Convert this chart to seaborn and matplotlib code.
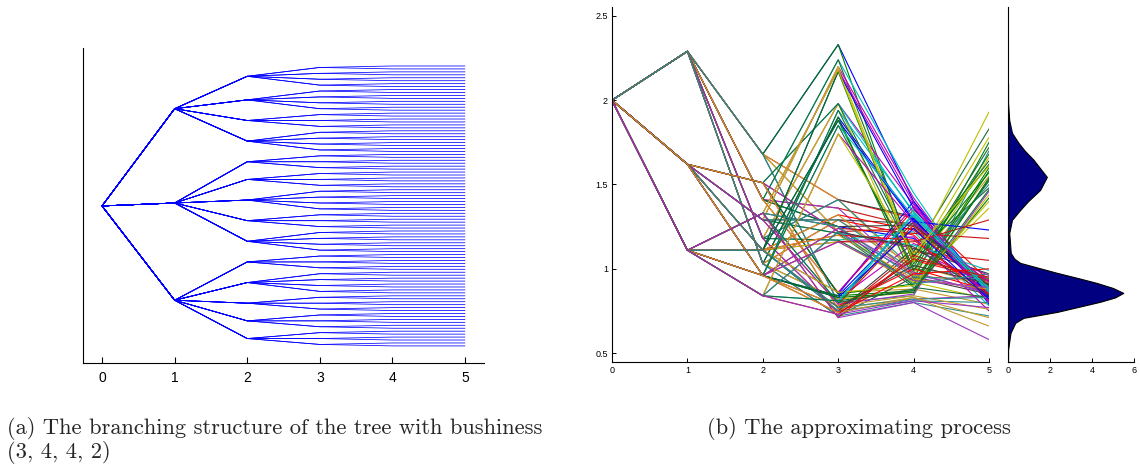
import numpy as np
import pandas as pd
import matplotlib
matplotlib.use("Agg")
import matplotlib.pyplot as plt
import seaborn as sns

# ---------------- data ----------------
# (a) branching structure of the tree
stages = [0, 1, 2, 3, 4, 5]
tree_root_children = 3
tree_stage1_children = [4, 5, 5]
tree_stage2_children = [4, 4, 3, 4, 3, 3, 4, 3, 4, 3, 4, 3, 3, 3]
tree_stage3_children = 2
tree_stage4_children = 1

# (b) approximating process: node values per stage (tree order)
proc_stage0 = [2.0]
proc_stage1 = [2.29, 1.62, 1.11]
proc_stage2 = [1.68, 1.41, 1.18, 1.03,
               1.51, 1.29, 1.11, 0.96,
               1.33, 1.11, 0.96, 0.84]
proc_stage3 = [2.33, 1.41, 1.22, 0.80,  2.24, 1.36, 1.25, 0.86,
               1.98, 1.41, 1.17, 0.74,  1.90, 1.29, 0.82, 0.72,
               1.98, 1.22, 0.85, 0.76,  2.20, 1.29, 1.21, 0.79,
               2.17, 1.32, 1.16, 0.75,  1.94, 1.24, 0.84, 0.78,
               2.18, 1.25, 0.80, 0.71,  1.88, 1.20, 0.86, 0.77,
               1.85, 1.16, 0.83, 0.74,  1.80, 1.22, 0.81, 0.73]
proc_stage4 = [1.40, 1.05, 1.30, 0.98, 1.12, 0.92, 1.28, 0.84,
               1.45, 1.08, 1.25, 0.95, 1.18, 0.90, 1.35, 0.88,
               1.38, 0.96, 1.31, 1.00, 1.22, 0.93, 1.10, 0.82,
               1.29, 0.94, 1.20, 1.02, 1.15, 0.86, 0.95, 0.80,
               1.33, 1.10, 1.24, 0.97, 1.40, 0.91, 1.05, 0.83,
               1.42, 1.06, 1.27, 0.99, 1.14, 0.89, 1.26, 0.85,
               1.36, 1.03, 1.23, 0.96, 1.19, 0.92, 1.12, 0.81,
               1.34, 1.07, 1.21, 0.98, 1.30, 0.87, 1.00, 0.84,
               1.39, 1.04, 1.26, 0.95, 1.32, 0.88, 1.08, 0.80,
               1.28, 0.99, 1.17, 0.94, 1.37, 0.90, 1.02, 0.82,
               1.31, 1.01, 1.16, 0.93, 1.24, 0.86, 0.97, 0.83,
               1.27, 1.09, 1.13, 0.91, 1.33, 0.87, 1.06, 0.81]
proc_stage5 = [0.86, 1.62, 0.84, 1.55, 0.90, 0.82, 0.88, 1.70,
               0.80, 1.48, 0.92, 0.87, 0.85, 1.58, 0.93, 0.79,
               0.83, 1.66, 0.89, 0.95, 0.78, 1.52, 1.05, 0.84,
               0.87, 1.75, 0.81, 0.90, 0.96, 1.44, 0.85, 0.72,
               0.88, 1.83, 0.91, 0.86, 0.79, 1.60, 0.94, 0.66,
               0.82, 1.93, 0.86, 1.50, 0.99, 0.83, 0.90, 1.46,
               0.84, 1.57, 0.88, 0.92, 0.75, 1.36, 0.97, 0.80,
               0.89, 1.64, 1.18, 0.85, 0.83, 1.42, 0.87, 0.76,
               0.81, 1.78, 0.90, 0.94, 0.86, 1.53, 0.93, 0.58,
               1.23, 1.68, 0.85, 0.88, 0.80, 1.40, 0.91, 0.83,
               0.87, 1.72, 1.29, 0.89, 0.82, 1.54, 1.00, 0.71,
               0.92, 1.61, 0.84, 0.97, 0.88, 1.47, 0.95, 0.77]
proc_branching = [3, 4, 4, 2, 1]

# density of the final-stage values
dens_value = [0.45, 0.519, 0.62, 0.68, 0.709, 0.744, 0.804, 0.83, 0.857, 0.886,
              0.916, 0.946, 0.976, 1.035, 1.06, 1.094, 1.213, 1.290, 1.349,
              1.40, 1.468, 1.545, 1.646, 1.70, 1.747, 1.806, 1.88, 1.984, 2.10]
dens_height = [0.0, 0.0, 0.12, 0.35, 0.74, 2.33, 4.38, 5.10, 5.49, 5.00,
               4.23, 3.30, 2.33, 0.58, 0.30, 0.13, 0.06, 0.19, 0.58,
               0.95, 1.53, 1.85, 1.22, 0.80, 0.50, 0.19, 0.06, 0.0, 0.0]

proc_colors = ["#0000FF", "#007F00", "#FF0000", "#C49A2C", "#BF00BF",
               "#BFBF00", "#404040", "#2E8E8E", "#00BFBF", "#1A6B3A",
               "#CC1111", "#9A35C0"]

caption_a = ["(a) The branching structure of the tree with bushiness",
             "(3, 4, 4, 2)"]
caption_b = "(b) The approximating process"

# ---------------- build tree paths ----------------
leaf_nodes = []   # per leaf: node index at each stage
s2 = s3 = s4 = 0
for i1, n1 in enumerate(tree_stage1_children):
    for _ in range(n1):
        for _ in range(tree_stage2_children[s2]):
            for _ in range(tree_stage3_children):
                for _ in range(tree_stage4_children):
                    leaf_nodes.append((0, i1, s2, s3, s4, len(leaf_nodes)))
                s4 += 1
            s3 += 1
        s2 += 1
n_leaves = len(leaf_nodes)
leaf_nodes = np.array(leaf_nodes)
leaf_pos = np.arange(n_leaves, dtype=float)
node_y = []
for k in range(6):
    ids = leaf_nodes[:, k]
    node_y.append({nid: leaf_pos[ids == nid].mean() for nid in np.unique(ids)})
rows = []
for li in range(n_leaves):
    for k in stages:
        rows.append({"leaf": li, "stage": k, "y": node_y[k][leaf_nodes[li, k]]})
df_tree = pd.DataFrame(rows)

# ---------------- build process paths ----------------
levels = [proc_stage0, proc_stage1, proc_stage2, proc_stage3, proc_stage4, proc_stage5]
n_paths = len(proc_stage5)
div = [int(np.prod(proc_branching[k:])) for k in range(6)]
prow = []
for p in range(n_paths):
    for k in stages:
        prow.append({"path": f"p{p:03d}", "stage": k, "value": levels[k][p // div[k]]})
df_proc = pd.DataFrame(prow)
pal = {f"p{p:03d}": proc_colors[p % len(proc_colors)] for p in range(n_paths)}

# ---------------- figure ----------------
sns.set_theme(style="white")
plt.rcParams["font.family"] = ["Liberation Sans", "DejaVu Sans"]

W, H = 1140, 469
fig = plt.figure(figsize=(W / 100, H / 100), dpi=100)

def box(x0, x1, ytop, ybot):
    return [x0 / W, 1 - ybot / H, (x1 - x0) / W, (ybot - ytop) / H]

def style_spines(ax):
    for s in ["top", "right"]:
        ax.spines[s].set_visible(False)
    for s in ["left", "bottom"]:
        ax.spines[s].set_color("black")
        ax.spines[s].set_linewidth(0.8)

# (a) tree
ax1 = fig.add_axes(box(83, 484, 48, 363))
sns.lineplot(data=df_tree, x="stage", y="y", units="leaf", estimator=None,
             sort=False, color="#0000FF", linewidth=0.55, ax=ax1)
ax1.set_xlim(-0.262, 5.262)
ax1.set_ylim(n_leaves - 1 + 5.8, -6.1)
ax1.set_xticks(stages)
ax1.set_yticks([])
ax1.set_xlabel("")
ax1.set_ylabel("")
ax1.tick_params(axis="x", direction="in", length=4, width=0.8, labelsize=10,
                pad=6, bottom=True, colors="black")
style_spines(ax1)

# (b) process paths
ax2 = fig.add_axes(box(612, 989, 7, 362))
sns.lineplot(data=df_proc, x="stage", y="value", hue="path", palette=pal,
             units="path", estimator=None, sort=False, linewidth=0.8,
             legend=False, ax=ax2)
ax2.set_xlim(0, 5)
ax2.set_ylim(0.447, 2.553)
ax2.set_xticks(stages)
ax2.set_yticks([0.5, 1, 1.5, 2, 2.5])
ax2.set_yticklabels(["0.5", "1", "1.5", "2", "2.5"])
ax2.set_xlabel("")
ax2.set_ylabel("")
ax2.tick_params(direction="in", length=3, width=0.7, labelsize=6.5, pad=3,
                bottom=True, left=True, colors="black")
style_spines(ax2)

# density side panel
ax3 = fig.add_axes(box(1008, 1134, 7, 362))
ax3.fill_betweenx(dens_value, 0, dens_height, facecolor="#000080",
                  edgecolor="black", linewidth=0.8)
ax3.set_xlim(0, 6)
ax3.set_ylim(0.447, 2.553)
ax3.set_xticks([0, 2, 4, 6])
ax3.set_yticks([])
ax3.tick_params(axis="x", direction="in", length=3, width=0.7, labelsize=6.5,
                pad=3, bottom=True, colors="black")
style_spines(ax3)

# captions
fig.text(7 / W, 1 - 428 / H, caption_a[0], family="cmr10", fontsize=16.2,
         va="center", ha="left")
fig.text(7 / W, 1 - 452 / H, caption_a[1], family="cmr10", fontsize=16.2,
         va="center", ha="left")
fig.text(707 / W, 1 - 428 / H, caption_b, family="cmr10", fontsize=16.2,
         va="center", ha="left")

fig.savefig("out.png", dpi=100)
